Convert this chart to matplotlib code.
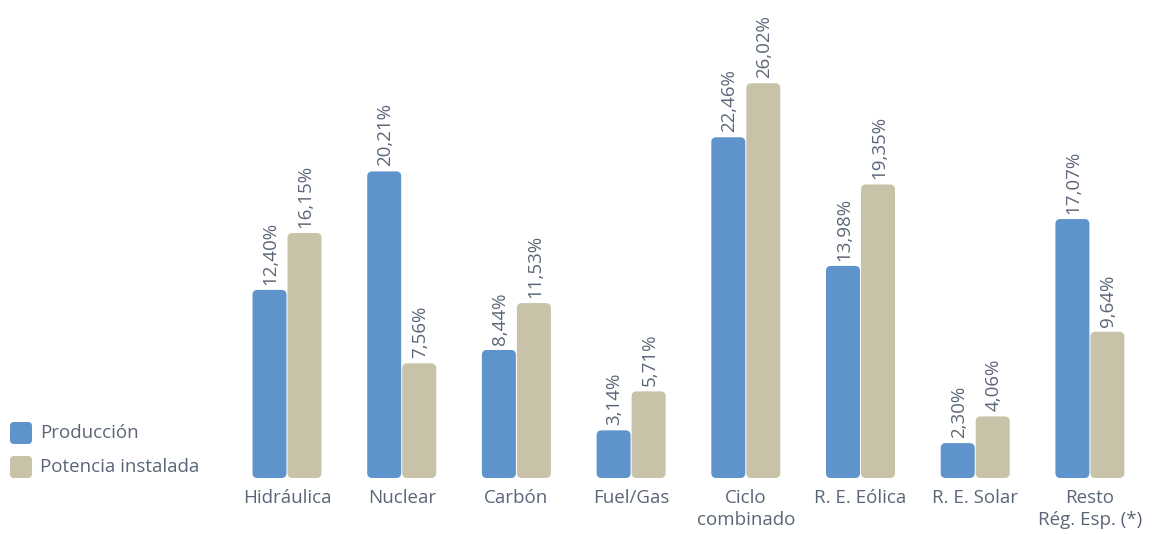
import matplotlib
matplotlib.use("Agg")
import matplotlib.pyplot as plt
import numpy as np
from matplotlib.patches import FancyBboxPatch

categories = ["Hidráulica", "Nuclear", "Carbón", "Fuel/Gas", "Ciclo\ncombinado",
              "R. E. Eólica", "R. E. Solar", "Resto\nRég. Esp. (*)"]
produccion = [12.40, 20.21, 8.44, 3.14, 22.46, 13.98, 2.30, 17.07]
potencia = [16.15, 7.56, 11.53, 5.71, 26.02, 19.35, 4.06, 9.64]
series_names = ["Producción", "Potencia instalada"]

BLUE = "#5f93cc"
TAN = "#c8c2a8"
TEXT = "#5a6678"

plt.rcParams["font.family"] = ["Open Sans", "DejaVu Sans"]

W, H = 1160, 534
fig = plt.figure(figsize=(W / 100, H / 100), dpi=100)

# axes placed in pixel terms: category centre 287px, step 114.7px, zero at y=478
step = 114.7
x0_px, x1_px = 230, 1150
y0_px, y1_px = 478, 10
pxy = 15.17  # px per percent
ax = fig.add_axes([x0_px / W, (H - y0_px) / H, (x1_px - x0_px) / W, (y0_px - y1_px) / H])
ax.set_xlim((x0_px - 287) / step, (x1_px - 287) / step)
ax.set_ylim(0, (y0_px - y1_px) / pxy)
ax.axis("off")

x = np.arange(len(categories))
w = 34 / step
rx = 5 / step
aspect = (5 / pxy) / rx


def rounded_bars(xs, vals, color):
    bars = ax.bar(xs, vals, w, color=color, alpha=0)
    for b in bars:
        p = FancyBboxPatch((b.get_x(), b.get_y()), b.get_width(), b.get_height(),
                           boxstyle=f"round,pad=0,rounding_size={rx}",
                           mutation_aspect=aspect, fc=color, ec="none")
        ax.add_patch(p)
    return bars


off = w / 2 + 0.5 / step
rounded_bars(x - off, produccion, BLUE)
rounded_bars(x + off, potencia, TAN)

for xs, vals in ((x - off, produccion), (x + off, potencia)):
    for xi, v in zip(xs, vals):
        ax.annotate(f"{v:.2f}%".replace(".", ","), (xi, v), xytext=(1, 5),
                    textcoords="offset pixels", rotation=90, ha="center", va="bottom",
                    fontsize=13.5, color=TEXT)

for xi, lab in zip(x, categories):
    ax.annotate(lab, (xi, 0), xytext=(0, -11), textcoords="offset pixels",
                ha="center", va="top", fontsize=13.5, color=TEXT, linespacing=1.3)

# legend
for i, (name, col) in enumerate(zip(series_names, [BLUE, TAN])):
    top = 422 + i * 34
    fig.add_artist(FancyBboxPatch((10 / W, (H - top - 22) / H), 22 / W, 22 / H,
                                  boxstyle=f"round,pad=0,rounding_size={4 / W}",
                                  mutation_aspect=W / H, fc=col, ec="none",
                                  transform=fig.transFigure))
    fig.text(40 / W, (H - top - 11) / H, name, ha="left", va="center",
             fontsize=13.5, color=TEXT)

fig.savefig("out.png", dpi=100)
